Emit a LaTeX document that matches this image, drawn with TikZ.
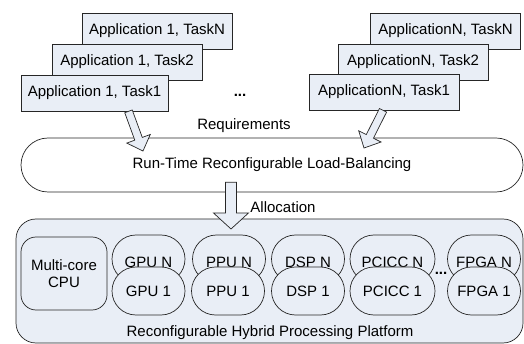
\documentclass[tikz,border=0pt]{standalone}
\usepackage{fontspec}
\setmainfont{Liberation Sans}
\usepackage{xcolor}
\usetikzlibrary{calc}

\definecolor{boxfill}{RGB}{233,238,246}

\begin{document}
\begin{tikzpicture}[
    x=1pt, y=-1pt,
    font=\fontsize{15}{16.5}\selectfont,
    % Node styles
    taskbox/.style={
        rectangle,
        draw=black!85,
        line width=0.7pt,
        fill=boxfill,
        minimum width=150pt,
        minimum height=36pt,
        inner sep=0pt
    },
    balancer/.style={
        rectangle,
        rounded corners=27pt,
        draw=black!85,
        line width=0.7pt,
        fill=white,
        minimum width=502pt,
        minimum height=54pt
    },
    platform/.style={
        rectangle,
        rounded corners=20pt,
        draw=black!85,
        line width=0.7pt,
        fill=boxfill,
        minimum width=507pt,
        minimum height=124pt
    },
    cpubox/.style={
        rectangle,
        rounded corners=15pt,
        draw=black!85,
        line width=0.7pt,
        fill=boxfill,
        minimum width=86pt,
        minimum height=73pt,
        align=center,
        inner sep=0pt
    },
    unit/.style={
        rectangle,
        rounded corners=24pt,
        draw=black!85,
        line width=0.7pt,
        fill=boxfill,
        minimum width=#1,
        minimum height=48pt,
        inner sep=0pt
    },
    unitback/.style={
        unit=#1,
        text height=17pt,
        text depth=0pt
    },
    blockarrow/.style n args={3}{
        draw=black!85,
        fill=boxfill,
        line width=0.7pt,
        line join=miter,
        to path={
            ($(\tikztostart)!#1!90:(\tikztotarget)$)
            -- ($(\tikztotarget)!#3!(\tikztostart)!#1!-90:(\tikztostart)$)
            -- ($(\tikztotarget)!#3!(\tikztostart)!#2!-90:(\tikztostart)$)
            -- (\tikztotarget)
            -- ($(\tikztotarget)!#3!(\tikztostart)!#2!90:(\tikztostart)$)
            -- ($(\tikztotarget)!#3!(\tikztostart)!#1!90:(\tikztostart)$)
            -- ($(\tikztostart)!#1!-90:(\tikztotarget)$)
            -- cycle
        }
    },
    label/.style={
        inner sep=0pt
    }
]

\useasboundingbox (0,0) rectangle (524,344);

% ===== Application task stacks =====

% Application 1
\node[taskbox] (appAn) at (157,31)   {Application 1, TaskN};
\node[taskbox] (appA2) at (127,62)   {Application 1, Task2};
\node[taskbox, minimum width=147pt] (appA1) at (94.5,93) {Application 1, Task1};

% Application N
\node[taskbox] (appNn) at (445.5,31) {ApplicationN, TaskN};
\node[taskbox] (appN2) at (413,62)   {ApplicationN, Task2};
\node[taskbox] (appN1) at (384,92)   {ApplicationN, Task1};

\node[label, font=\fontsize{15}{16.5}\selectfont\bfseries] (appdots) at (240,95) {...};

\node[label] (req) at (244,126) {Requirements};

% ===== Load balancing =====

\node[balancer] (lb) at (272,165) {Run-Time Reconfigurable Load-Balancing};

\coordinate (reqA) at (143,151);
\coordinate (reqN) at (364,148);

\draw[blockarrow={4pt}{12.5pt}{13pt}] ([xshift=34pt]appA1.south) to (reqA);
\draw[blockarrow={4pt}{12.5pt}{13pt}] ([xshift=-1pt]appN1.south) to (reqN);

\node[label] (alloc) at (283,207) {Allocation};

% ===== Processing platform =====

\node[platform] (plat) at (269.5,281) {};

\node[cpubox] (cpu) at (64,273.5) {Multi-core\\CPU};

% back row
\node[unitback=73pt] (gpuN)   at (148.5,259) {GPU N};
\node[unitback=73pt] (ppuN)   at (229,259)   {PPU N};
\node[unitback=73pt] (dspN)   at (308,259)   {DSP N};
\node[unitback=85pt] (pciccN) at (392.5,259) {PCICC N};
\node[unitback=73pt] (fpgaN)  at (484,259)   {FPGA N};

% front row
\node[unit=73pt] (gpu1)   at (148.5,291) {GPU 1};
\node[unit=73pt] (ppu1)   at (228,291)   {PPU 1};
\node[unit=73pt] (dsp1)   at (308,291)   {DSP 1};
\node[unit=85pt] (pcicc1) at (392.5,291) {PCICC 1};
\node[unit=73pt] (fpga1)  at (484,291)   {FPGA 1};

\node[label, font=\fontsize{15}{16.5}\selectfont\bfseries] (unitdots) at (441,273) {...};

\node[label] (plattitle) at (270,333) {Reconfigurable Hybrid Processing Platform};

% ===== Allocation arrow =====

\coordinate (alloctip) at (231,229);
\draw[blockarrow={5.5pt}{17.5pt}{16pt}] ([xshift=-41pt,yshift=10pt]lb.south) to (alloctip);

\end{tikzpicture}
\end{document}
